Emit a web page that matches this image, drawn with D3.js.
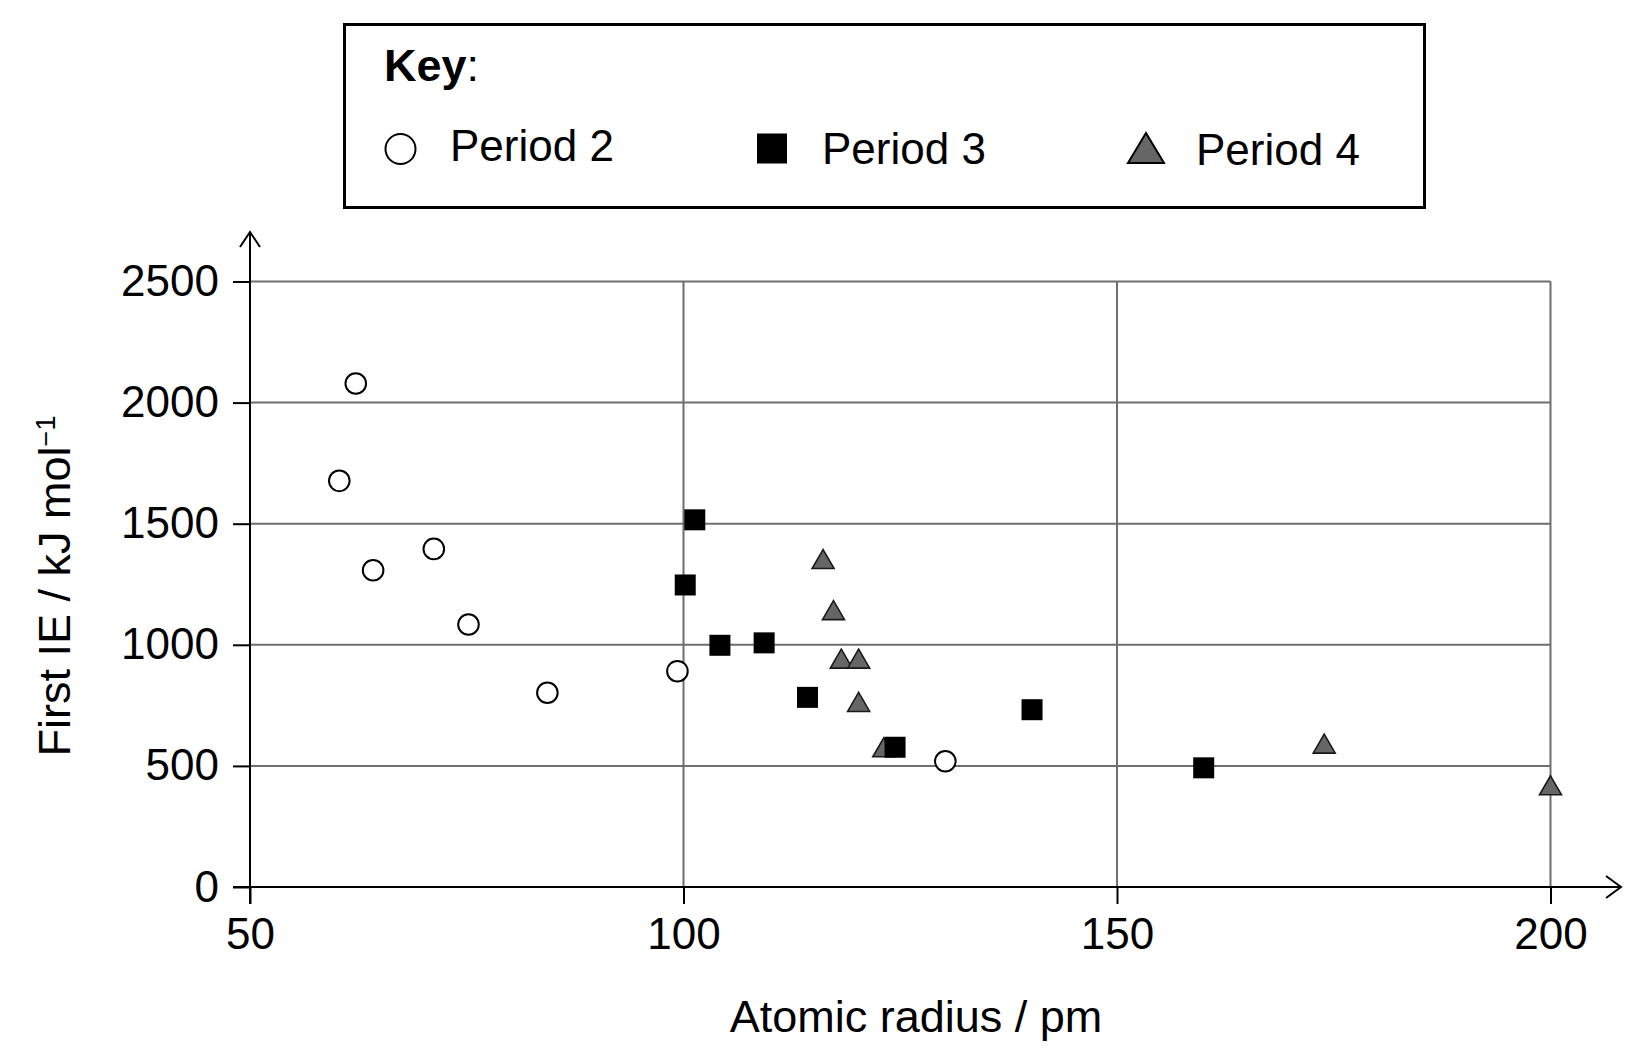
<!DOCTYPE html>
<html>
<head>
<meta charset="utf-8">
<script src="https://cdn.jsdelivr.net/npm/d3@7.9.0/dist/d3.min.js"></script>
<style>
  html, body { margin: 0; padding: 0; background: #fff; }
  svg { display: block; font-family: Arial, "Liberation Sans", sans-serif; }
</style>
</head>
<body>
<svg id="chart" width="1646" height="1057"></svg>
<script>
// ----- data -----
const period2Radius = [62.2, 60.3, 64.2, 71.2, 75.2, 84.3, 99.3, 130.2];
const period2IE     = [2079, 1677, 1308, 1396, 1084, 802, 891, 519];

const period3Radius = [101.3, 100.2, 104.2, 109.3, 114.3, 124.4, 140.2, 160.0];
const period3IE     = [1516, 1247, 998, 1008, 783, 577, 732, 492];

const period4Radius = [116.1, 117.3, 118.2, 120.2, 120.2, 123.1, 173.9, 200.0];
const period4IE     = [1354, 1143, 943, 943, 764, 577, 592, 420];

const xTicks = [50, 100, 150, 200];
const yTicks = [0, 500, 1000, 1500, 2000, 2500];
const legendLabels = ["Period 2", "Period 3", "Period 4"];

const svg = d3.select("#chart");

// scales
const x = d3.scaleLinear().domain([50, 200]).range([250, 1550.5]);
const y = d3.scaleLinear().domain([0, 2500]).range([887, 281.5]);

const gridColor = "#6e6e6e";
const tickLen = 17;

// ----- grid -----
const grid = svg.append("g").attr("class", "grid");
grid.selectAll("line.h")
  .data(yTicks.filter(d => d > 0))
  .enter().append("line")
  .attr("class", "h")
  .attr("x1", x(50)).attr("x2", x(200))
  .attr("y1", d => y(d)).attr("y2", d => y(d))
  .attr("stroke", gridColor).attr("stroke-width", 2);

grid.selectAll("line.v")
  .data(xTicks.filter(d => d > 50))
  .enter().append("line")
  .attr("class", "v")
  .attr("x1", d => x(d)).attr("x2", d => x(d))
  .attr("y1", y(0)).attr("y2", y(2500))
  .attr("stroke", gridColor).attr("stroke-width", 2);

// ----- axes -----
const fmt = d3.format("d");
const xAxis = svg.append("g")
  .attr("transform", `translate(0,${y(0)})`)
  .call(d3.axisBottom(x).tickValues(xTicks).tickFormat(fmt)
    .tickSize(tickLen).tickSizeOuter(0).tickPadding(14));
xAxis.select(".domain").remove();

const yAxis = svg.append("g")
  .attr("transform", `translate(${x(50)},0)`)
  .call(d3.axisLeft(y).tickValues(yTicks).tickFormat(fmt)
    .tickSize(tickLen).tickSizeOuter(0).tickPadding(14));
yAxis.select(".domain").remove();

[xAxis, yAxis].forEach(a => {
  a.selectAll(".tick line").attr("stroke", "#000").attr("stroke-width", 2);
  a.selectAll(".tick text")
    .attr("fill", "#000")
    .style("font-size", "44px")
    .style("font-family", 'Arial, "Liberation Sans", sans-serif');
});

// axis lines with open arrow heads
const axisLines = svg.append("g").attr("stroke", "#000").attr("stroke-width", 2).attr("fill", "none");
const xTip = 1621, yTip = 232;
axisLines.append("line")
  .attr("x1", x(50) - tickLen).attr("x2", xTip)
  .attr("y1", y(0)).attr("y2", y(0));
axisLines.append("path")
  .attr("d", `M${xTip - 15},${y(0) - 11} L${xTip},${y(0)} L${xTip - 15},${y(0) + 11}`);
axisLines.append("line")
  .attr("x1", x(50)).attr("x2", x(50))
  .attr("y1", y(0) + tickLen).attr("y2", yTip);
axisLines.append("path")
  .attr("d", `M${x(50) - 10},${yTip + 15} L${x(50)},${yTip} L${x(50) + 10},${yTip + 15}`);

// axis titles
svg.append("text")
  .attr("x", 916).attr("y", 1032)
  .attr("text-anchor", "middle")
  .style("font-size", "45px")
  .text("Atomic radius / pm");

const yTitle = svg.append("text")
  .attr("transform", "translate(70,586) rotate(-90)")
  .attr("text-anchor", "middle")
  .style("font-size", "45px");
yTitle.append("tspan").text("First IE / kJ mol");
yTitle.append("tspan").attr("dy", -15).style("font-size", "27px").text("\u22121");

// ----- markers -----
const triPath = (w, h) => `M0,${-h / 2} L${w / 2},${h / 2} L${-w / 2},${h / 2} Z`;

const p4 = period4Radius.map((r, i) => ({ r, ie: period4IE[i] }));
const p3 = period3Radius.map((r, i) => ({ r, ie: period3IE[i] }));
const p2 = period2Radius.map((r, i) => ({ r, ie: period2IE[i] }));

svg.append("g").selectAll("path")
  .data(p4).enter().append("path")
  .attr("transform", d => `translate(${x(d.r)},${y(d.ie)})`)
  .attr("d", triPath(22, 19))
  .attr("fill", "#666")
  .attr("stroke", "#1a1a1a")
  .attr("stroke-width", 1.6)
  .attr("stroke-linejoin", "miter");

const sq = 21;
svg.append("g").selectAll("rect")
  .data(p3).enter().append("rect")
  .attr("x", d => x(d.r) - sq / 2)
  .attr("y", d => y(d.ie) - sq / 2)
  .attr("width", sq).attr("height", sq)
  .attr("fill", "#000");

svg.append("g").selectAll("circle")
  .data(p2).enter().append("circle")
  .attr("cx", d => x(d.r)).attr("cy", d => y(d.ie))
  .attr("r", 10.3)
  .attr("fill", "#fff")
  .attr("stroke", "#000")
  .attr("stroke-width", 2);

// ----- key -----
const key = svg.append("g").attr("class", "key");
key.append("rect")
  .attr("x", 344.5).attr("y", 24.5)
  .attr("width", 1080).attr("height", 183)
  .attr("fill", "#fff").attr("stroke", "#000").attr("stroke-width", 3);

const keyTitle = key.append("text").attr("x", 384).attr("y", 81).style("font-size", "45px");
keyTitle.append("tspan").style("font-weight", "bold").text("Key");
keyTitle.append("tspan").text(":");

key.append("circle")
  .attr("cx", 400.5).attr("cy", 149).attr("r", 15)
  .attr("fill", "#fff").attr("stroke", "#000").attr("stroke-width", 2);
key.append("rect")
  .attr("x", 757).attr("y", 133.5).attr("width", 30).attr("height", 30)
  .attr("fill", "#000");
key.append("path")
  .attr("transform", "translate(1146,148)")
  .attr("d", triPath(36, 30))
  .attr("fill", "#666").attr("stroke", "#000").attr("stroke-width", 2);

const legendX = [450, 822, 1196];
const legendY = [161, 164, 164.5];
key.selectAll("text.lab")
  .data(legendLabels).enter().append("text")
  .attr("class", "lab")
  .attr("x", (d, i) => legendX[i])
  .attr("y", (d, i) => legendY[i])
  .style("font-size", "44px")
  .text(d => d);
</script>
</body>
</html>
